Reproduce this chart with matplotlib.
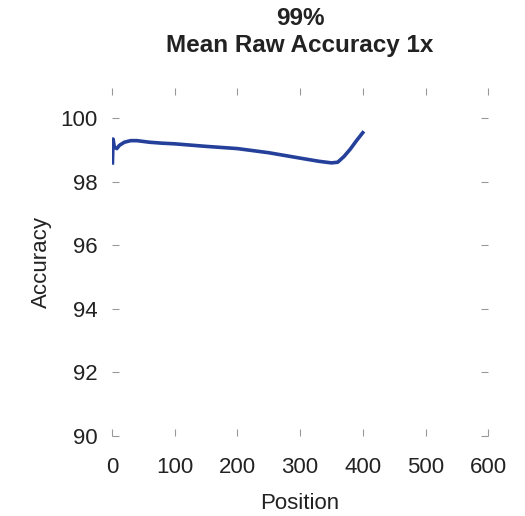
import matplotlib
matplotlib.use("Agg")
import matplotlib.pyplot as plt

# readings of the mean accuracy curve
position = [1, 2, 4, 8, 12, 20, 30, 40, 60, 80, 100, 150, 200, 250, 300, 330, 350, 360, 370, 380, 390, 400]
accuracy = [98.6, 99.35, 99.1, 99.05, 99.15, 99.25, 99.3, 99.3, 99.25, 99.22, 99.2, 99.12, 99.05, 98.92, 98.75, 98.65, 98.6, 98.62, 98.8, 99.03, 99.3, 99.55]

xticks = [0, 100, 200, 300, 400, 500, 600]
yticks = [90, 92, 94, 96, 98, 100]

plt.rcParams['font.family'] = ['Liberation Sans', 'DejaVu Sans']

fig = plt.figure(figsize=(5.25, 5.16), dpi=100)
ax = fig.add_axes([0.213, 0.155, 0.717, 0.674])
ax.plot(position, accuracy, color='#24409a', linewidth=2.6)

ax.set_xlim(0, 600)
ax.set_ylim(90, 100.95)
ax.set_xticks(xticks)
ax.set_yticks(yticks)
for s in ax.spines.values():
    s.set_visible(False)
ax.tick_params(direction='in', top=True, right=True, length=5, width=0.8,
               color='#999999', labelsize=16, labelcolor='#222222')
ax.tick_params(axis='x', pad=15)
ax.tick_params(axis='y', pad=10)
ax.set_xlabel('Position', fontsize=16, color='#222222', labelpad=11)
ax.set_ylabel('Accuracy', fontsize=16, color='#222222', labelpad=6)
ax.set_title('99%\nMean Raw Accuracy 1x', fontsize=17.5, fontweight='bold', pad=26,
             color='#222222', linespacing=1.25)

fig.savefig('out.png', dpi=100)
